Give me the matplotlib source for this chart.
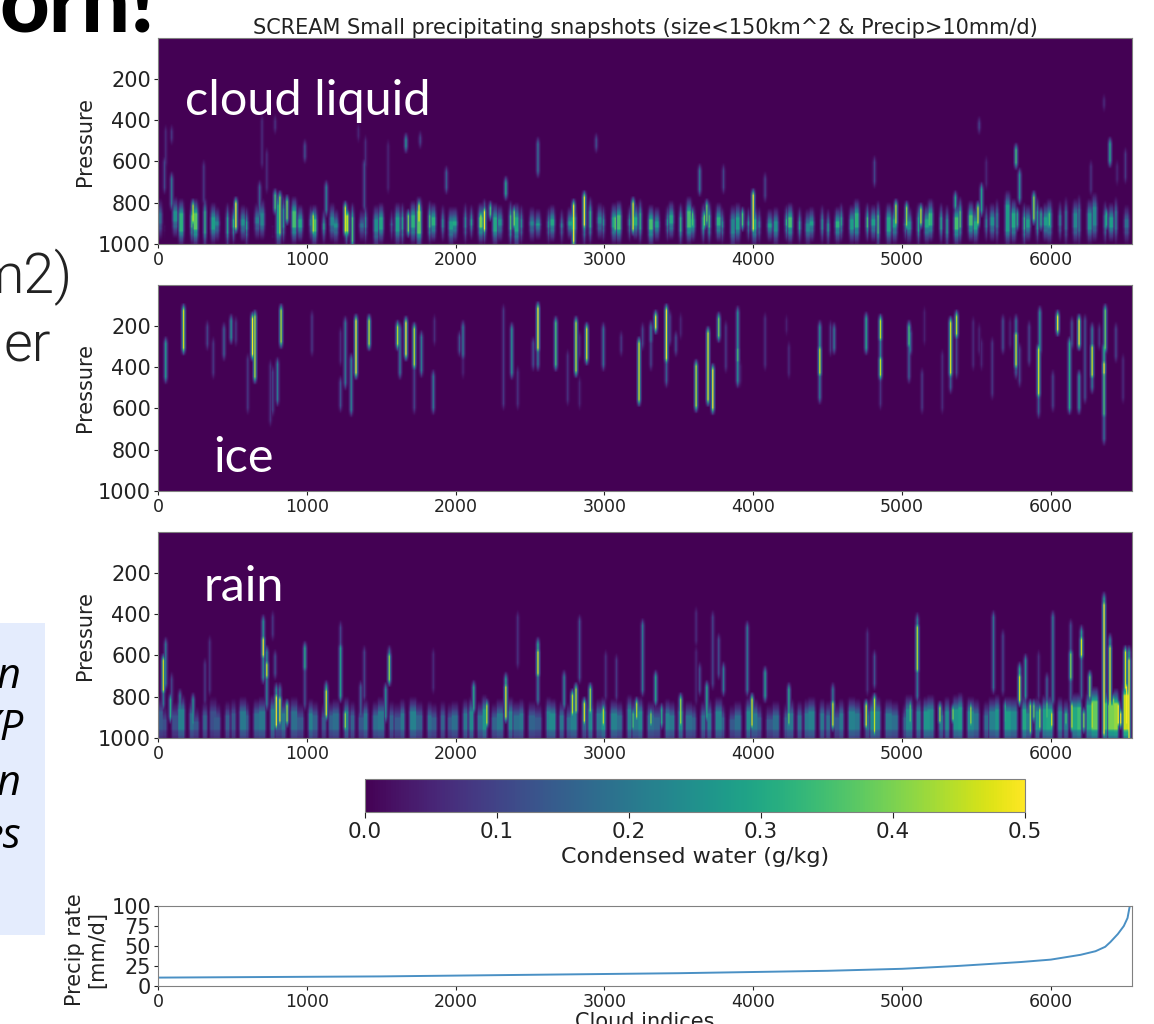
import numpy as np
import matplotlib
matplotlib.use('Agg')
import matplotlib.pyplot as plt

W, H = 1154, 1024
XMAX = 6545
DX, DP = 8, 10

# (cloud index, top pressure, bottom pressure, g/kg)
ice_streaks = [
    (171,121,300,.47),(50,283,445,.28),(333,202,283,.1),(374,283,429,.08),(446,219,332,.15),(491,170,251,.25),
    (520,186,267,.08),(635,162,332,.5),(655,154,445,.44),(606,364,591,.08),(824,121,275,.44),(1038,154,316,.08),
    (757,397,655,.07),(775,429,607,.1),(804,380,558,.2),(1257,186,477,.2),(1230,235,364,.06),(1230,477,583,.12),
    (1297,364,607,.22),(1328,170,429,.5),(1417,178,283,.45),(1610,202,283,.45),(1628,219,429,.2),(1669,186,332,.5),
    (1727,210,380,.45),(1720,397,599,.1),(1770,251,413,.2),(1849,445,599,.2),(1860,170,267,.06),(2029,251,316,.12),
    (2054,202,332,.2),(2054,364,429,.05),(2324,121,575,.08),(2382,210,429,.25),(2423,429,575,.07),(2524,283,380,.12),
    (2553,113,300,.5),(2553,300,380,.2),(2675,186,380,.35),(2754,348,550,.07),(2808,186,413,.45),(2837,251,332,.06),
    (2837,477,575,.05),(2885,219,356,.48),(2997,219,380,.18),(3117,251,316,.08),(3238,283,558,.47),(3258,219,283,.1),
    (3317,202,267,.2),
    (3346,154,202,.5),(3317,251,380,.1),(3418,121,356,.5),(3418,356,461,.15),(3440,154,267,.1),(3481,251,316,.12),
    (3519,162,235,.05),(3620,397,583,.45),(3700,235,558,.48),(3729,413,599,.5),(3772,162,243,.4),(3821,202,397,.08),
    (3900,138,461,.25),(3900,316,364,.35),(3918,397,461,.05),(4083,162,380,.07),(4231,178,219,.04),(4240,300,429,.06),
    (4453,202,316,.25),(4453,316,429,.47),(4453,429,542,.2),(4525,202,316,.08),(4549,219,300,.2),(4762,162,300,.3),
    (4861,170,251,.45),(4861,251,364,.2),(4861,364,437,.45),(4861,445,575,.07),(5049,202,283,.35),(5049,283,445,.15),
    (5058,235,316,.2),(5143,437,599,.08),(5152,138,267,.04),(5279,348,591,.06),(5329,186,421,.48),(5329,421,494,.15),
    (5371,154,235,.45),(5371,235,429,.1),(5481,186,380,.06),(5524,219,316,.05),(5542,283,380,.05),(5609,283,526,.08),
    (5683,178,300,.12),(5732,186,283,.05),(5770,178,243,.2),(5770,243,380,.47),(5770,380,421,.15),(5795,316,461,.1),
    (5860,202,364,.1),(5920,316,526,.47),(5920,526,615,.15),(5929,138,316,.25),(6021,445,583,.1),(6050,154,219,.5),
    (6133,283,591,.3),(6150,186,283,.12),(6195,170,283,.5),(6195,445,599,.25),(6234,170,542,.12),(6280,219,300,.2),
    (6280,300,437,.47),(6280,437,494,.2),(6330,219,283,.08),(6361,308,380,.3),(6361,380,429,.5),(6361,429,623,.35),
    (6361,623,744,.18),(6370,121,308,.38),(6440,219,348,.1),(6491,364,542,.06),
]

liquid_band_q = [.17,.02,.25,.32,.35,.37,.32,.28,.23,.28,.32,.25,.28,.21,.23,.02,.28,.25,.35,.3,.25,.35,.3,.23,.25,.41,.35,.18,.23,.25,
    .3,.16,.28,.28,.32,.37,.35,.32,.25,.28,.3,.23,.28,.35,.39,.3,.25,.35,.3,.25,.23,.28,.25,.3,.23,.28,.3,.28,.32,.23,
    .25,.3,.35,.23,.3,.32,.35,.28,.25,.3,.32,.35,.28,.3,.35,.32,.25,.23,.28,.25,.3,.23,.28,.25,.32,.35,.28,.23,.28,.25,
    .28,.32,.3,.28,.32,.35,.28,.35,.3,.28,.23,.25,.28,.3,.32,.3,.28,.35,.37,.35,.3,.23,.25,.23,.28,.3,.32,.28,.25,.28,
    .25,.23,.21,.23,.21,.25,.23,.25,.28,.23,.18]
liquid_band_top = [810,900,800,810,820,810,800,830,850,830,840,840,850,830,810,930,770,790,800,840,840,840,860,830,860,820,830,860,830,840,
    830,860,830,830,820,800,820,830,840,850,850,830,840,830,810,830,840,820,830,840,850,860,850,840,860,850,830,840,800,830,
    840,830,820,840,830,810,840,850,840,820,830,800,840,830,820,830,850,840,830,850,840,850,860,850,840,830,850,860,850,840,
    860,850,830,840,810,830,840,820,830,840,860,850,830,840,810,830,840,830,800,820,850,840,830,810,770,810,830,840,800,830,
    810,820,800,810,790,810,780,820,830,800,840]
liquid_band_bot = [940,950,930,975,960,970,985,965,950,985,960,950,970,940,945,950,985,960,960,955,950,975,965,950,960,975,975,955,960,980,
    965,950,975,970,960,985,960,950,955,970,950,960,945,960,965,975,950,970,980,960,950,945,960,950,960,945,965,970,960,940,
    950,960,965,950,945,965,970,955,950,940,975,960,955,965,960,950,960,985,965,950,970,960,955,975,950,960,965,975,950,965,
    975,960,950,965,960,955,950,985,975,960,950,965,975,960,950,965,985,970,960,950,965,955,950,960,975,960,970,955,965,950,
    960,950,970,960,975,965,950,960,955,965,960]

liquid_streaks = [
    (40,600,720,.1),(50,450,600,.06),(95,450,480,.08),(95,680,800,.2),(310,620,780,.08),(700,400,600,.06),(680,720,850,.15),
    (730,560,720,.06),(790,400,430,.07),(985,520,570,.12),(1130,720,830,.22),(1385,610,810,.12),(1395,500,610,.06),
    (1545,520,720,.05),(1939,657,721,.15),(1669,495,520,.25),(1760,480,500,.1),
    (234,810,883,.45),(520,802,916,.5),(790,762,827,.35),(817,770,948,.42),(870,794,875,.4),(1045,867,932,.45),
    (1257,827,932,.48),(1275,867,932,.45),(1308,908,980,.35),(1759,810,883,.48),(1680,867,932,.4),(2198,843,924,.5),
    (2175,867,916,.42),(2232,827,851,.35),(2340,705,754,.3),(2396,843,900,.4),(2554,519,640,.18),(2795,819,980,.5),
    (2867,770,908,.5),(3076,875,924,.38),(3196,802,924,.48),
    (4000,762,924,.5),(4000,835,908,.5),(3642,649,730,.2),(3694,810,883,.38),(3597,851,900,.35),(3676,867,900,.38),
    (4960,810,891,.45),(5037,827,908,.42),(5132,835,891,.45),(5188,859,908,.35),(5512,827,891,.45),(5539,738,835,.28),
    (5360,778,819,.3),(5768,543,600,.35),(5797,665,770,.25),(5893,770,875,.42),(5994,851,900,.35),(6402,519,592,.3),
    (5781,851,900,.3),(4818,600,690,.1),(3803,649,722,.1),(4083,681,762,.1),(6274,624,738,.07),(6505,568,673,.08),
    (6449,624,689,.05),(5938,859,900,.3),(6379,851,900,.3),(3933,851,908,.35),(6364,300,325,.06),(5520,415,430,.1),
    (2950,495,520,.12),(1350,440,470,.05),(5570,600,700,.05),
]

rain_band_q = [.14,.12,.12,.22,.18,.14,.16,.12,.14,.15,.14,.2,.15,.18,.2,.22,.14,.2,.18,.14,.22,.16,.14,.16,.18,.22,.16,.14,.2,.18,
    .2,.16,.14,.2,.22,.16,.18,.15,.16,.14,.18,.2,.24,.18,.26,.16,.2,.22,.18,.2,.16,.14,.22,.24,.2,.18,.22,.16,.24,.2,
    .26,.22,.18,.22,.2,.24,.18,.16,.22,.2,.24,.18,.16,.18,.2,.22,.16,.14,.18,.24,.2,.16,.14,.18,.16,.2,.18,.2,.22,.2,
    .18,.14,.2,.22,.2,.18,.24,.22,.2,.18,.16,.24,.22,.26,.24,.2,.24,.26,.28,.24,.2,.18,.22,.26,.28,.24,.3,.22,.26,.28,
    .3,.24,.22,.3,.34,.3,.38,.34,.4,.42,.46]
rain_band_top = [830,870,850,820,840,880,850,830,860,850,840,830,850,840,830,820,860,840,830,860,840,850,860,850,840,830,850,860,840,850,
    830,850,860,840,830,850,850,860,850,860,850,840,830,850,820,860,840,830,850,840,850,860,830,840,850,860,830,850,820,840,
    830,840,850,820,840,830,850,860,840,850,830,850,860,850,840,830,860,870,850,830,840,860,870,850,860,840,850,840,830,840,
    850,860,840,830,840,850,830,830,840,850,860,820,830,830,820,850,830,820,810,830,840,850,830,820,830,830,820,840,830,820,
    820,830,840,810,810,800,780,790,800,790,750]

rain_streaks = [
    (32,621,766,.47),(32,766,831,.2),(50,548,734,.2),(81,815,896,.3),(95,718,815,.1),(234,815,928,.25),(149,799,912,.2),
    (313,645,815,.08),(351,532,766,.07),(705,435,524,.25),(705,524,596,.5),(705,596,702,.25),(734,580,645,.25),
    (734,645,694,.47),(734,694,831,.22),(775,410,491,.08),(784,605,685,.12),(793,766,807,.25),(793,807,936,.5),
    (817,766,815,.2),(817,815,912,.47),(867,847,912,.42),(986,564,653,.3),(986,653,831,.12),(1128,750,775,.3),
    (1128,775,888,.48),(1229,467,564,.1),(1229,564,799,.28),(1257,880,944,.42),(1385,588,799,.1),(1363,750,880,.15),
    (1552,580,605,.2),(1552,605,718,.42),(1534,766,896,.25),(1849,596,750,.06),(2423,410,637,.07),(2209,847,928,.45),
    (2124,750,855,.3),(2342,718,750,.3),(2342,750,896,.48),(2553,540,580,.3),(2553,580,685,.48),(2553,685,815,.2),
    (2837,435,702,.12),(2734,702,831,.22),(2788,799,872,.45),(2808,766,863,.45),(2867,831,912,.48),(2910,766,863,.42),
    (2995,863,920,.45),(3008,605,799,.07),(3087,621,799,.08),(3216,839,896,.45),(3196,880,944,.35),(3258,459,766,.2),
    (3346,702,815,.3),(3317,880,928,.4),(3391,863,928,.3),(3519,815,928,.42),(3620,394,524,.06),(3620,588,815,.05),
    (3642,661,766,.12),(3689,750,896,.3),(3729,410,734,.1),(3772,524,685,.12),(3803,669,766,.2),(3960,467,766,.2),
    (3998,815,936,.47),(4083,685,799,.28),(4240,766,928,.3),(4240,880,920,.38),(4538,766,831,.2),(4538,831,936,.47),
    (4762,847,936,.48),(4773,491,766,.07),(4820,605,734,.12),(4820,815,961,.45),(5109,427,467,.2),(5109,467,661,.45),
    (5109,661,799,.2),(5060,847,912,.35),(5259,855,912,.42),(5344,863,904,.4),(5468,855,920,.42),(5620,419,750,.18),
    (5680,508,766,.1),(5696,847,912,.3),(5797,669,702,.3),(5797,702,815,.47),(5839,629,799,.25),(5871,847,961,.42),
    (5893,847,896,.38),(5920,605,799,.07),(5931,863,944,.42),(5980,718,896,.15),(5980,831,896,.35),(6010,880,936,.47),
    (6021,410,815,.2),(6106,880,920,.35),(6137,459,596,.12),(6137,596,702,.4),(6137,702,815,.15),(6150,847,944,.45),
    (6209,483,524,.25),(6209,524,596,.47),(6209,596,799,.15),(6225,880,944,.4),(6267,702,799,.4),(6285,831,944,.45),
    (6361,321,354,.3),(6361,354,977,.5),(6402,524,564,.25),(6402,564,831,.48),(6431,815,928,.4),(6460,847,920,.5),
    (6475,880,920,.5),(6505,588,750,.47),(6531,588,621,.3),(6531,621,993,.5),(6514,750,928,.5),
]

# sorted precip rate
precip_x = [0,500,1000,1500,2000,2500,3000,3500,4000,4500,5000,5370,5800,6000,6200,6300,6365,6400,6450,6490,6515,6530]
precip_y = [10.5,11,11.5,12,13,14,15,16,17.5,19,21.5,25,30,33,39,43.5,49,55,65,75,85,100]

xticks = [0,1000,2000,3000,4000,5000,6000]
p_ticks = [200,400,600,800,1000]
precip_ticks = [0,25,50,75,100]
cbar_ticks = [0,.1,.2,.3,.4,.5]
panel_labels = ['cloud liquid','ice','rain']

# spacing of the band columns is uneven in the picture
band_shift = [0,-14,9,-6,16,-10,4,12,-16,7,-3,14,-12,5,-8,11]
band_half = [2,1,2,2,1,2,1,2,2,1,1,2,1,2,2,1]
col_fade = {1: .4, 2: .12}
end_fade = [.75, .45, .2]


def add_streak(field, x, top, bot, q, half=1):
    j = int(x/DX)
    i0, i1 = int(top/DP), int(bot/DP)+1
    ny, nx = field.shape
    for c in range(max(j-half-1, 0), min(j+half+2, nx)):
        d = abs(c-j)
        f = col_fade[d+1-half] if d >= half else 1.0
        col = field[:, c]
        col[i0:min(i1, ny)] = np.maximum(col[i0:min(i1, ny)], q*f)
        for n, e in enumerate(end_fade):
            for i in (i0-n-1, i1+n):
                if 0 <= i < ny:
                    col[i] = max(col[i], q*f*e)


def make_field(streaks, band=None, wider=0):
    field = np.zeros((int(1000/DP), int(XMAX/DX)+1))
    if band is not None:
        for k, (q, top, bot) in enumerate(zip(*band)):
            x = k*50+10+band_shift[k % len(band_shift)]
            h = band_half[k % len(band_half)]+wider
            add_streak(field, x, top, bot, q*.35, h)
            add_streak(field, x, top+20, bot-20, q*.65, h)
            add_streak(field, x, top+45, bot-45, q, h)
    for x, top, bot, q in streaks:
        add_streak(field, x, top, bot, q)
    return field


def px_axes(fig, x0, y0, x1, y1):
    return fig.add_axes([x0/W, 1-y1/H, (x1-x0)/W, (y1-y0)/H])


def style(ax):
    for s in ax.spines.values():
        s.set_color('#808080')
    ax.set_xticks(xticks)
    ax.tick_params(axis='x', labelsize=12.5, colors='#222222', pad=2, length=3)
    ax.tick_params(axis='y', labelsize=15, colors='#222222', pad=2, length=3)


fig = plt.figure(figsize=(W/100, H/100), dpi=100)

rain_bot = [1000]*len(rain_band_q)
fields = [
    make_field(liquid_streaks, (liquid_band_q, liquid_band_top, liquid_band_bot)),
    make_field(ice_streaks),
    make_field(rain_streaks, (rain_band_q, rain_band_top, rain_bot), wider=1),
]
tops = [38, 285, 532]
label_pos = [(185, 115), (213, 472), (204, 601)]

for f, top, name, pos in zip(fields, tops, panel_labels, label_pos):
    ax = px_axes(fig, 158, top, 1132, top+206)
    im = ax.imshow(f, cmap='viridis', vmin=0, vmax=.5, aspect='auto', interpolation='bilinear',
                   extent=[0, XMAX, 1000, 3])
    ax.set_xlim(0, XMAX)
    ax.set_ylim(1000, 3)
    ax.set_yticks(p_ticks)
    ax.set_ylabel('Pressure', fontsize=15, color='#222222', labelpad=2.5)
    style(ax)
    fig.text(pos[0]/W, 1-pos[1]/H, name, color='white', fontsize=35, family='Lato', va='baseline')
    if top == 38:
        ax.set_title('SCREAM Small precipitating snapshots (size<150km^2 & Precip>10mm/d)',
                     fontsize=15, color='#222222', pad=3)

cax = px_axes(fig, 365, 779, 1025, 812)
cb = fig.colorbar(im, cax=cax, orientation='horizontal')
cb.set_ticks(cbar_ticks)
cb.ax.tick_params(labelsize=15.5, colors='#222222', length=4, pad=3)
cb.set_label('Condensed water (g/kg)', fontsize=16, color='#222222', labelpad=4)
cb.outline.set_edgecolor('#808080')

ax = px_axes(fig, 158, 906, 1132, 986)
ax.plot(precip_x, precip_y, color='#4a90c4', lw=1.4)
ax.set_xlim(0, XMAX)
ax.set_ylim(0, 100)
ax.set_yticks(precip_ticks)
ax.set_ylabel('Precip rate\n[mm/d]', fontsize=15, color='#222222', linespacing=1.15)
ax.yaxis.set_label_coords(-.052, .46)
ax.set_xlabel('Cloud indices', fontsize=15, color='#222222', labelpad=1)
style(ax)

# slide background behind the figure
box = px_axes(fig, 0, 623, 45, 935)
box.set_axis_off()
box.set_zorder(-1)
box.axvspan(0, 1, color='#e4ecfd', lw=0)
box.set_xlim(0, 1)


def slide_text(x, y, s, size, **kw):
    fig.text(x/W, 1-y/H, s, fontsize=size, ha='right', va='baseline', **kw)


slide_text(155, 31, 'orn!', 62, family='Lato', weight='black', color='black')
slide_text(73, 293, 'm2)', 40, family='Roboto', weight=300, color='#222222')
slide_text(51, 361, 'er', 40, family='Roboto', weight=300, color='#222222')
for y, s, rx in zip([688, 740, 795, 848], ['n', 'XP', 'n', 'es'], [21, 23, 21, 22]):
    slide_text(rx, y, s, 30, family='Open Sans', style='italic', weight='medium', color='black')

fig.savefig('out.png', dpi=100)
